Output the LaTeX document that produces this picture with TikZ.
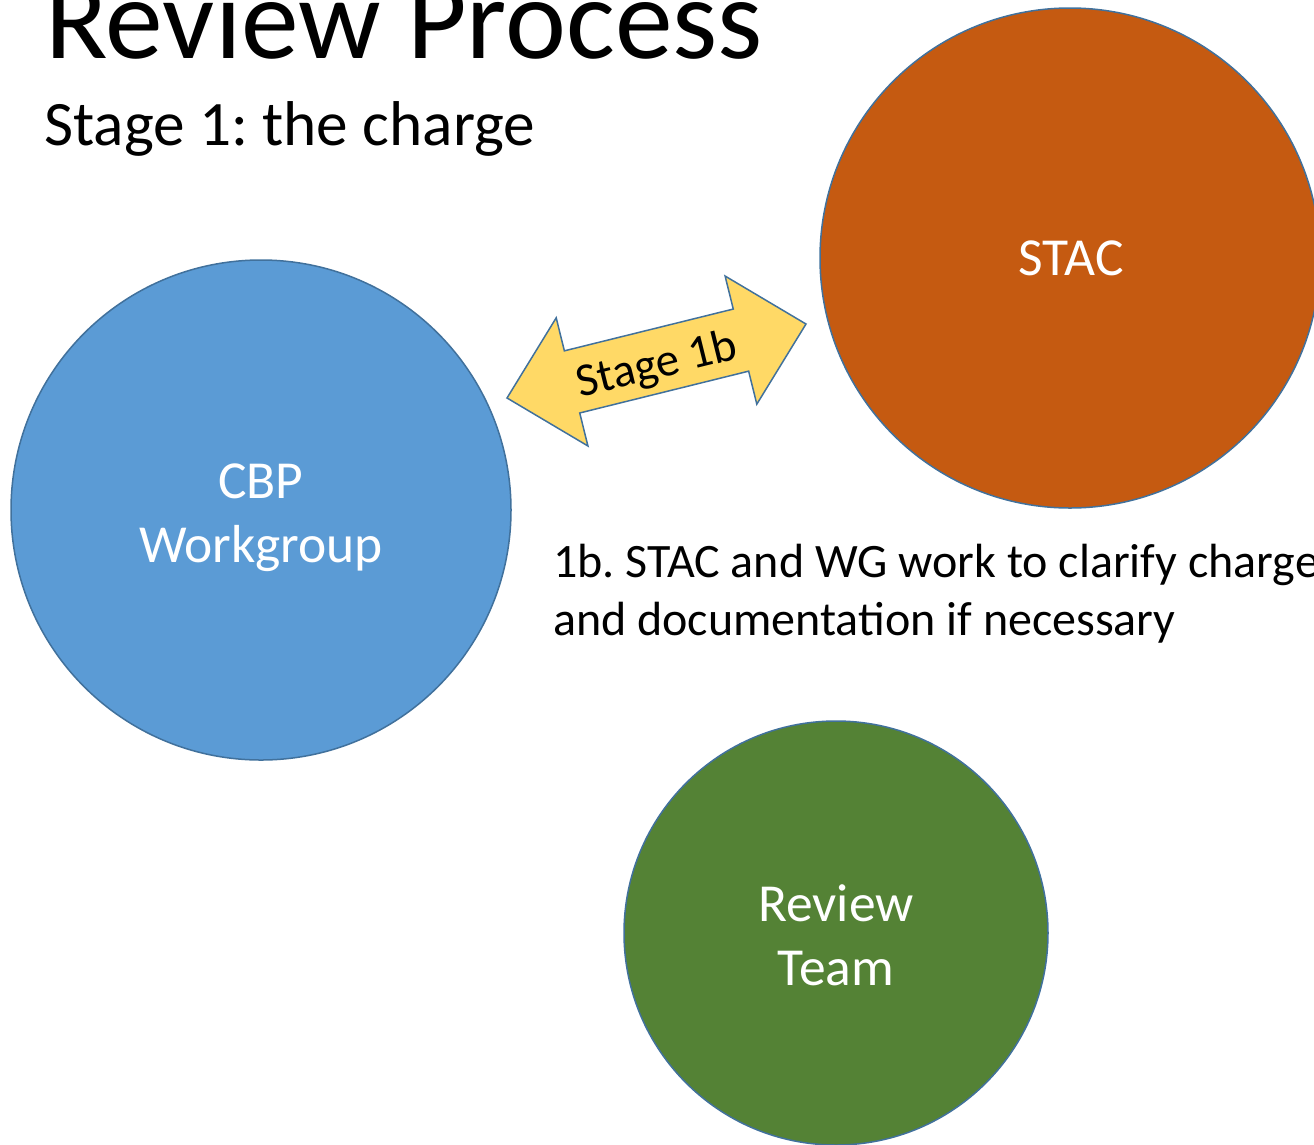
\documentclass[tikz,border=0pt]{standalone}
\usepackage{fontspec}
\setmainfont{Carlito}
\frenchspacing
\begin{document}
\frenchspacing
\begin{tikzpicture}[x=1pt,y=-1pt,
  bubble/.style={circle,draw=edgeblue,line width=1.5pt,inner sep=0pt},
  bubbletext/.style={inner sep=0pt,text=white,align=center,font=\fontsize{53.5}{64}\selectfont},
  plain/.style={inner sep=0pt,anchor=base west,text=black}]
\definecolor{edgeblue}{HTML}{41719C}
\definecolor{wgblue}{HTML}{5B9BD5}
\definecolor{stacorange}{HTML}{C55A11}
\definecolor{teamgreen}{HTML}{548235}
\definecolor{arrowyellow}{HTML}{FFD966}
\useasboundingbox (0,0) rectangle (1314,1144);
\clip (0,0) rectangle (1314,1144);
% title
\node[plain,font=\fontsize{115.5}{120}\selectfont] (title) at (45,58) {Review Process};
\node[plain,font=\fontsize{63.3}{70}\selectfont] (subtitle) at (44,145) {Stage 1: the charge};
% circles
\node[bubble,fill=wgblue,minimum size=500pt] (wg) at (261,510) {};
\node[bubbletext] (wglabel) at ([yshift=-7.5pt]wg.center) {CBP\\Workgroup};
\node[bubble,fill=stacorange,minimum size=500pt] (stac) at (1070,258) {};
\node[bubbletext,anchor=base] (staclabel) at (1071,275) {STAC};
\node[bubble,fill=teamgreen,minimum size=424pt] (team) at (836,933) {};
\node[bubbletext] (teamlabel) at ([yshift=-2.5pt]team.center) {Review\\Team};
% double arrow
\begin{scope}[shift={(656.5,361)},rotate=13.9]
  \draw[fill=arrowyellow,draw=edgeblue,line width=1.5pt,line join=miter]
    (-154,0) -- (-87,-66) -- (-87,-32) -- (87,-32) -- (87,-66) -- (154,0)
    -- (87,66) -- (87,32) -- (-87,32) -- (-87,66) -- cycle;
\end{scope}
\node[rotate=13.9,inner sep=0pt,font=\fontsize{47}{50}\selectfont] (stagelabel) at (657,366) {Stage 1b};
% description
\node[plain,align=left,anchor=north west,font=\fontsize{48}{57.6}\selectfont] (desc) at (553,544)
  {1b. STAC and WG work to clarify charge\\and documentation if necessary};
\end{tikzpicture}
\end{document}
